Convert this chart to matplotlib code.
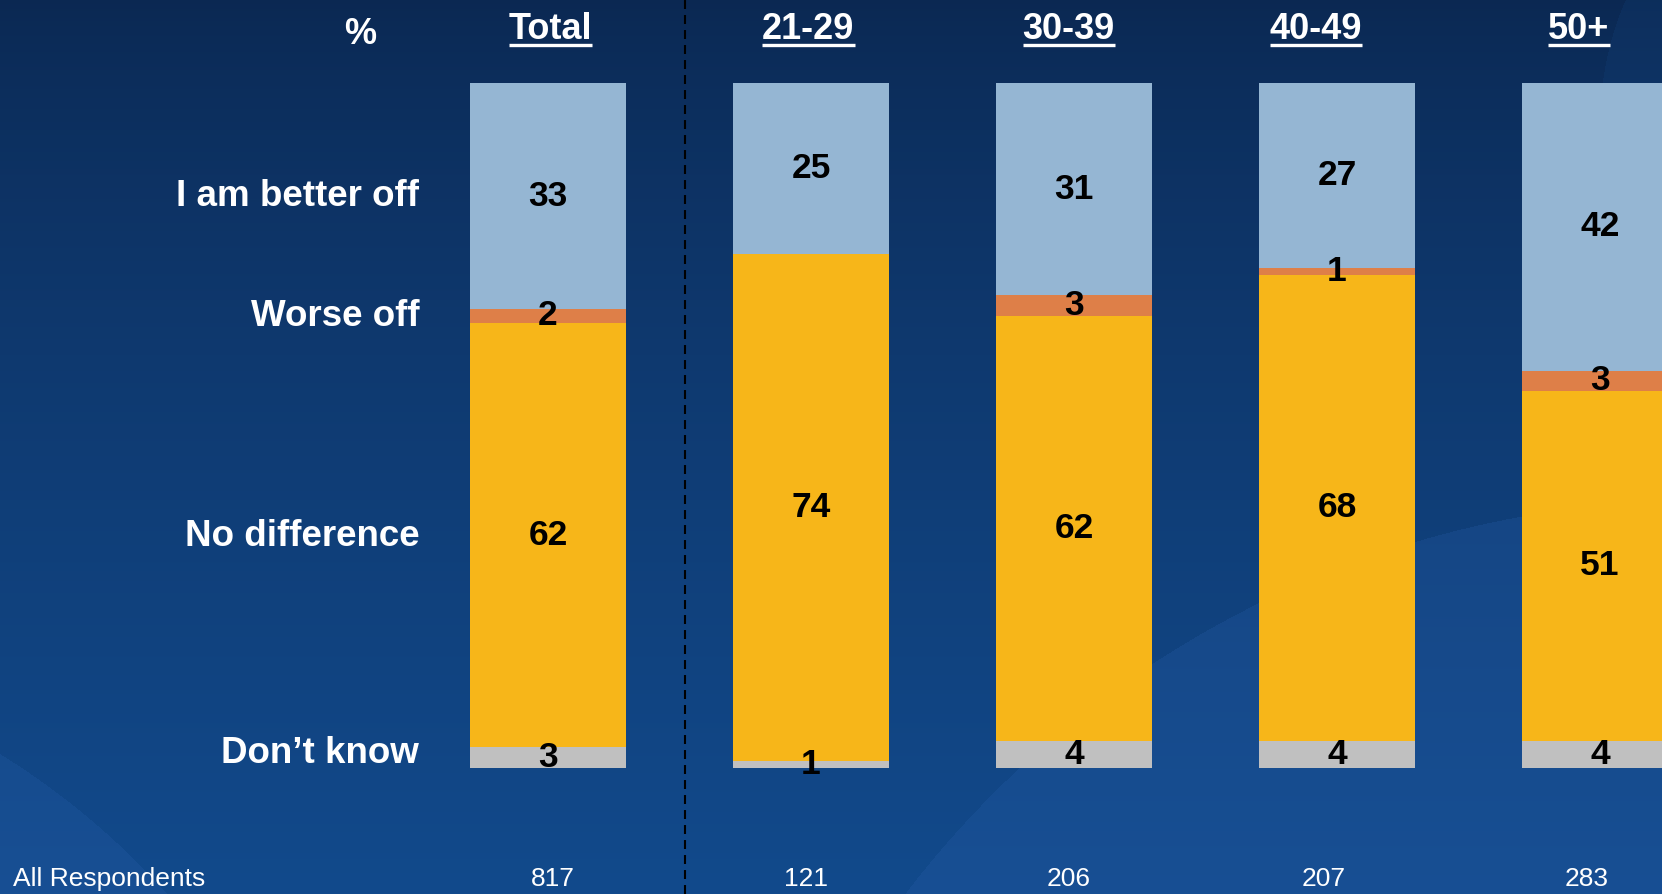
import numpy as np
import matplotlib.pyplot as plt

plt.rcParams['font.family'] = ['Liberation Sans', 'DejaVu Sans']

# survey results, % of respondents per age group
groups = ['Total', '21-29', '30-39', '40-49', '50+']
base_n = [817, 121, 206, 207, 283]
better_off = [33, 25, 31, 27, 42]
worse_off = [2, 0, 3, 1, 3]
no_difference = [62, 74, 62, 68, 51]
dont_know = [3, 1, 4, 4, 4]
answers = ['Don\u2019t know', 'No difference', 'Worse off', 'I am better off']
colors = ['#c0c0c0', '#f7b619', '#de7f48', '#95b6d3']

W, H = 1662, 894
fig = plt.figure(figsize=(W / 100, H / 100), dpi=100)
ax = fig.add_axes([0, 0, 1, 1])
ax.axis('off')
xlim = (-2.084, 4.236)
ylim = (-18.39, 112.12)
ax.set_xlim(*xlim)
ax.set_ylim(*ylim)

# navy backdrop, a bit lighter towards the bottom with two soft sweeps
yy, xx = np.mgrid[0:H, 0:W]
t = (yy / (H - 1))[..., None]
top = np.array([11, 40, 82]) / 255
bottom = np.array([18, 74, 140]) / 255
bg = top + (bottom - top) * t ** 0.75
light = np.array([40, 95, 172]) / 255
sweep = (np.hypot(xx - 1700, yy - 1500) < 1000) | (np.hypot(xx + 400, yy - 1400) < 760)
bg[sweep] = bg[sweep] * 0.76 + light * 0.24
corner = np.hypot(xx - 1900, yy - 120) < 300
bg[corner] = bg[corner] * 0.8 + np.array([20, 70, 130]) / 255 * 0.2
ax.imshow(bg, extent=(*xlim, *ylim), origin='upper', aspect='auto', zorder=0)

x = np.arange(len(groups))
width = 0.593
stack = [dont_know, no_difference, worse_off, better_off]
bottoms = np.zeros(len(groups))
mids = []
for vals, col in zip(stack, colors):
    vals = np.array(vals, dtype=float)
    ax.bar(x, vals, width, bottom=bottoms, color=col, zorder=2)
    centers = bottoms + vals / 2
    mids.append(centers)
    for xi, v, c in zip(x, vals, centers):
        if v > 0:
            ax.text(xi, c, f'{v:.0f}', ha='center', va='center', fontsize=25.5,
                    fontweight='bold', color='black', zorder=3)
    bottoms += vals

# answer labels to the left, lined up with the Total bar
for name, centers in zip(answers, mids):
    ax.text(-0.49, max(centers[0], 2.2) + 0.45, name, ha='right',
            va='center_baseline', fontsize=26.5, fontweight='bold',
            color='white', zorder=3)

ax.axvline(0.52, color='black', lw=1.5, ls=(0, (4.3, 2.9)), zorder=1)

ax.text(-0.715, 105.7, '%', ha='center', va='baseline', fontsize=26,
        fontweight='bold', color='white')
header_dx = [0.01, -0.01, -0.02, -0.08, -0.08]
headers = []
for xi, g, dx in zip(x, groups, header_dx):
    headers.append(ax.text(xi + dx, 106.4, g, ha='center', va='baseline',
                           fontsize=26, fontweight='bold', color='white'))

count_dx = [0.02, -0.02, -0.02, -0.05, -0.05]
for xi, n, dx in zip(x, base_n, count_dx):
    ax.text(xi + dx, -16.2, str(n), ha='center', va='center', fontsize=19,
            color='white')
ax.text(-2.035, -16.2, 'All Respondents', ha='left', va='center', fontsize=19,
        color='white')

# underline the column headers
fig.canvas.draw()
inv = ax.transData.inverted()
for h in headers:
    bb = h.get_window_extent()
    (x0, _), (x1, _) = inv.transform([(bb.x0, 0), (bb.x1, 0)])
    ax.plot([x0, x1], [105.5, 105.5], color='white', lw=2.4,
            solid_capstyle='butt', zorder=3)

fig.savefig('out.png', dpi=100)
